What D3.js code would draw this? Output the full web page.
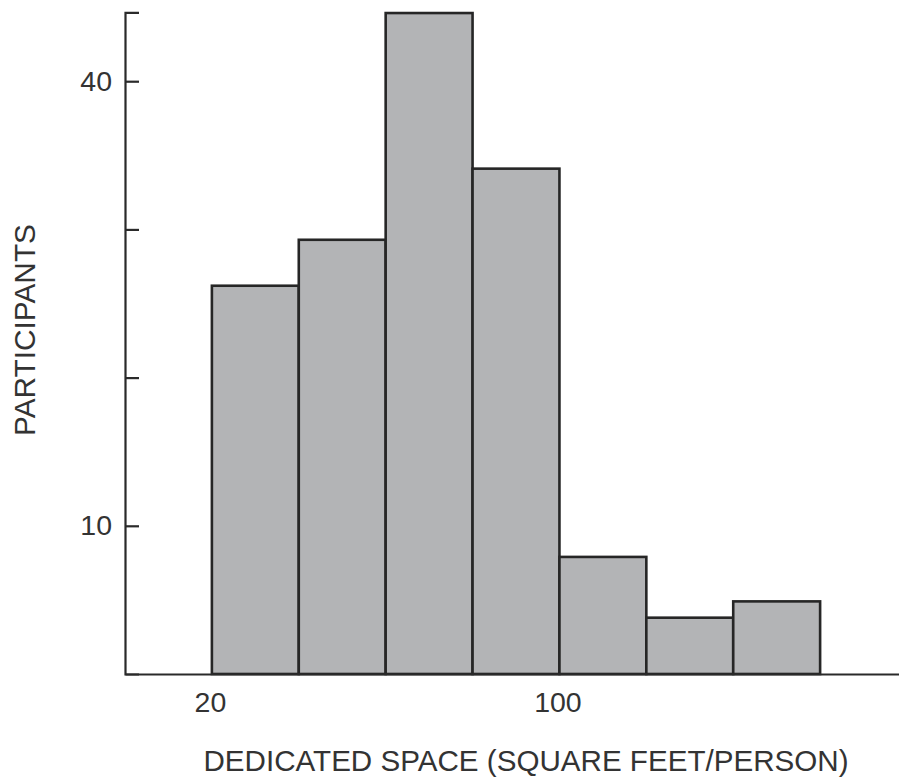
<!DOCTYPE html>
<head>
  <meta charset="utf-8">
  <script src="https://d3js.org/d3.v7.min.js"></script>
  <style>
    body { margin:0; background:#fff; }
    text { font-family: "Liberation Sans", Arial, sans-serif; fill:#333; }
  </style>
</head>

<body>
  <script>
    // bins of dedicated space (sq ft / person), 20 wide each
    var binStarts = [20, 40, 60, 80, 100, 120, 140];
    var binWidth = 20;
    var participants = [26.2, 29.3, 44.6, 34.1, 7.9, 3.8, 4.9];

    var yTicks = [10, 20, 30, 40];
    var yLabelled = [10, 40];
    var xTicks = [20, 100];

    var width = 899,
        height = 778;

    var svg = d3.select("body").append("svg")
      .attr("width", width)
      .attr("height", height);

    var xScale = d3.scaleLinear()
      .domain([0, 180])
      .range([125, 907]);

    var yScale = d3.scaleLinear()
      .domain([0, 44.65])
      .range([674, 12.3]);

    // bars
    svg.append("g")
      .selectAll("rect")
      .data(binStarts)
      .enter()
      .append("rect")
      .attr("x", function(d) { return xScale(d); })
      .attr("y", function(d, i) { return yScale(participants[i]); })
      .attr("width", function(d) { return xScale(d + binWidth) - xScale(d); })
      .attr("height", function(d, i) { return yScale(0) - yScale(participants[i]); })
      .attr("fill", "#b3b4b6")
      .attr("stroke", "#262626")
      .attr("stroke-width", 2.6);

    // y axis, ticks pointing inward
    var yAxis = d3.axisLeft(yScale)
      .tickValues(yTicks)
      .tickSizeInner(-14)
      .tickSizeOuter(-14)
      .tickPadding(13)
      .tickFormat(function(d) { return yLabelled.indexOf(d) >= 0 ? d : ""; });

    var gy = svg.append("g")
      .attr("transform", "translate(125,0)")
      .call(yAxis);

    // x axis
    var xAxis = d3.axisBottom(xScale)
      .tickValues(xTicks)
      .tickSize(0)
      .tickPadding(18);

    var gx = svg.append("g")
      .attr("transform", "translate(-2,674)")
      .call(xAxis);
    gx.select(".domain").attr("transform", "translate(2,0)");

    [gx, gy].forEach(function(g) {
      g.selectAll("path, line").attr("stroke", "#2a2a2a").attr("stroke-width", 2.2);
      g.selectAll("text")
        .style("font-family", '"Liberation Sans", Arial, sans-serif')
        .style("font-size", "28.5px")
        .attr("fill", "#333");
    });

    // axis titles
    svg.append("text")
      .attr("x", 526)
      .attr("y", 771)
      .attr("text-anchor", "middle")
      .style("font-size", "29.6px")
      .text("DEDICATED SPACE (SQUARE FEET/PERSON)");

    svg.append("text")
      .attr("transform", "translate(35,330) rotate(-90)")
      .attr("text-anchor", "middle")
      .style("font-size", "29.8px")
      .text("PARTICIPANTS");
  </script>
</body>
